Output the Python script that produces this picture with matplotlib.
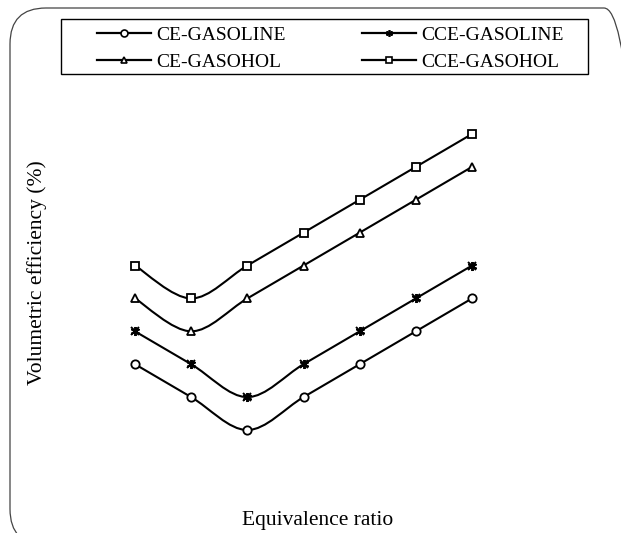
import numpy as np
import matplotlib
matplotlib.use("Agg")
import matplotlib.pyplot as plt
from matplotlib.path import Path
from matplotlib.patches import PathPatch, FancyBboxPatch, Rectangle
from matplotlib.lines import Line2D

plt.rcParams['font.family'] = ['Liberation Serif', 'DejaVu Serif']

# equivalence ratio steps (no tick values shown in the figure)
x = [0, 1, 2, 3, 4, 5, 6]
ce_gasoline = [2, 1, 0, 1, 2, 3, 4]
cce_gasoline = [3, 2, 1, 2, 3, 4, 5]
ce_gasohol = [4, 3, 4, 5, 6, 7, 8]
cce_gasohol = [5, 4, 5, 6, 7, 8, 9]

names = ['CE-GASOLINE', 'CCE-GASOLINE', 'CE-GASOHOL', 'CCE-GASOHOL']
series = [ce_gasoline, cce_gasoline, ce_gasohol, cce_gasohol]
markers = ['o', 'x', '^', 's']


def smooth_path(xs, ys):
    # bezier curve through the points, like a "smoothed line" in a spreadsheet
    p = np.column_stack([xs, ys]).astype(float)
    n = len(p)
    verts = [p[0]]
    codes = [Path.MOVETO]
    for i in range(n - 1):
        prev = p[i - 1] if i > 0 else p[i]
        nxt = p[i + 2] if i + 2 < n else p[i + 1]
        c1 = p[i] + (p[i + 1] - prev) / 6
        c2 = p[i + 1] - (nxt - p[i]) / 6
        verts += [c1, c2, p[i + 1]]
        codes += [Path.CURVE4] * 3
    return Path(verts, codes)


fig = plt.figure(figsize=(6.21, 5.33), dpi=100)
ax = fig.add_axes([135 / 621, 103 / 533, 337 / 621, 296 / 533])
ax.set_xlim(0, 6)
ax.set_ylim(0, 9)
ax.axis('off')

handles = {}
for name, ys, m in zip(names, series, markers):
    ax.add_patch(PathPatch(smooth_path(x, ys), fill=False, lw=1.5,
                           edgecolor='black', clip_on=False))
    if m == 'x':
        ax.plot(x, ys, ls='none', marker=(6, 2, 0), ms=6.5, mew=1.4,
                color='black', clip_on=False)
        ax.plot(x, ys, ls='none', marker='x', ms=5.5, mew=1.4,
                color='black', clip_on=False)
        hm = (6, 2, 0)
    else:
        ax.plot(x, ys, ls='none', marker=m, ms=6, mew=1.3, mfc='white',
                mec='black', clip_on=False)
        hm = m
    handles[name] = Line2D([], [], color='black', lw=1.6, marker=hm, ms=5,
                           mew=1.2, mfc='white', mec='black', label=name)

fig.text(318 / 621, 1 - 521 / 533, 'Equivalence ratio', ha='center',
         va='center', fontsize=15.5)
fig.text(37 / 621, 1 - 273 / 533, 'Volumetric efficiency (%)', ha='center',
         va='center', rotation=90, fontsize=15.5)

# legend is filled column by column: keep row order of the original
order = ['CE-GASOLINE', 'CE-GASOHOL', 'CCE-GASOLINE', 'CCE-GASOHOL']
leg = fig.legend(handles=[handles[k] for k in order], loc='upper left',
                 ncol=2, bbox_to_anchor=(97 / 621, 1 - 26 / 533),
                 fontsize=14, frameon=False, handlelength=2.8,
                 handletextpad=0.25, columnspacing=3.9, borderpad=0,
                 labelspacing=0.5, borderaxespad=0)

fig.patches.append(Rectangle((61 / 621, 1 - 74 / 533), 527 / 621, 55 / 533,
                             transform=fig.transFigure, fill=False,
                             edgecolor='black', lw=1.0))

# rounded outer frame
frame = FancyBboxPatch((0.10, -0.12), 6.3, 5.37,
                       boxstyle='round,pad=0,rounding_size=0.36',
                       transform=fig.dpi_scale_trans, fill=False,
                       edgecolor='#444444', lw=0.9)
fig.patches.append(frame)

fig.savefig('out.png', dpi=100)
